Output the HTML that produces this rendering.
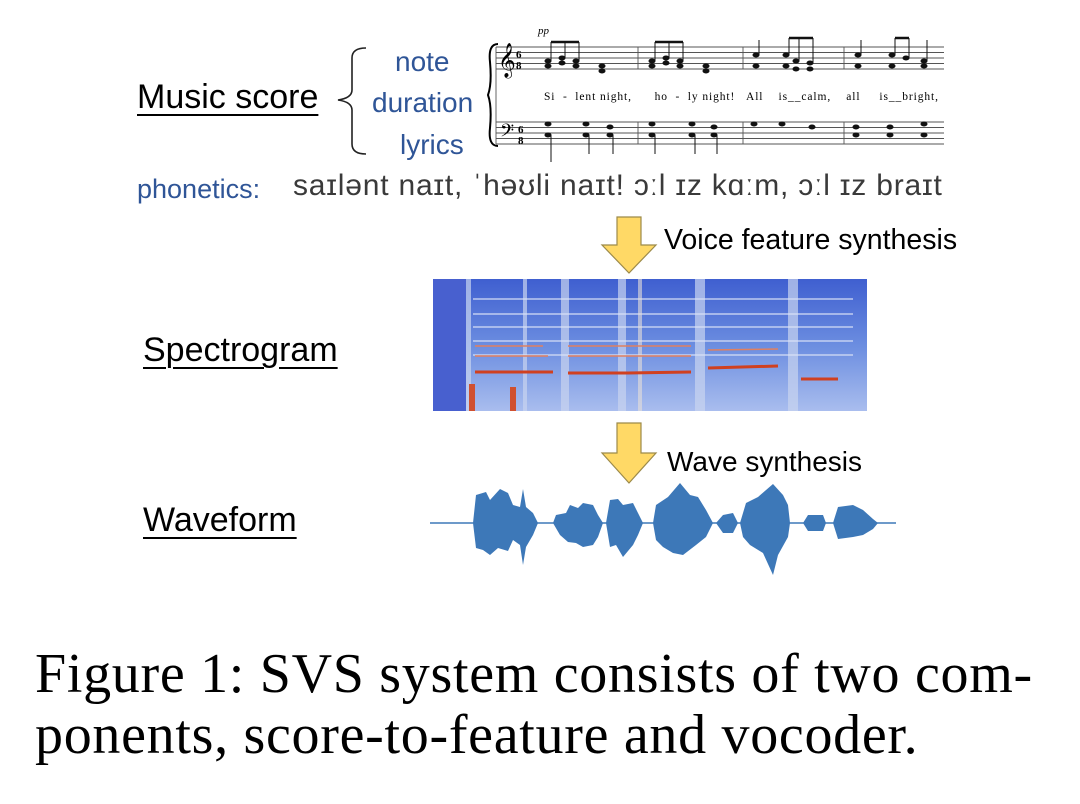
<!DOCTYPE html>
<html><head><meta charset="utf-8"><style>
body{margin:0;width:1080px;height:804px;background:#fff;position:relative;overflow:hidden;font-family:"Liberation Sans","DejaVu Sans",sans-serif}
.t{position:absolute;white-space:nowrap;line-height:1}
.u{text-decoration:underline;text-underline-offset:6px;text-decoration-thickness:2px}
.b{color:#2f5597}
.cap{font-family:"Liberation Serif",serif;font-size:56px;letter-spacing:0.7px;color:#000}
</style></head><body>
<div class="t u" style="left:137px;top:80px;font-size:34px">Music score</div>
<svg style="position:absolute;left:328px;top:44px" width="44" height="114"><path d="M38 4 Q24 4 24 14 L24 46 Q24 54 10 56 Q24 58 24 66 L24 100 Q24 110 38 110" fill="none" stroke="#222" stroke-width="1.6"/></svg>
<div class="t b" style="left:395px;top:48px;font-size:28px">note</div>
<div class="t b" style="left:372px;top:89px;font-size:28px">duration</div>
<div class="t b" style="left:400px;top:131px;font-size:28px">lyrics</div>
<svg style="position:absolute;left:486px;top:22px" width="462" height="146">
<text x="52" y="12" font-family="Liberation Serif" font-style="italic" font-size="11">pp</text>
<path d="M12 22 Q2 22 4 40 Q6 62 2 73 Q6 84 4 106 Q2 124 12 124" fill="none" stroke="#000" stroke-width="2"/>
<g stroke="#555" stroke-width="0.9">
<line x1="10" y1="25" x2="458" y2="25"/><line x1="10" y1="30.5" x2="458" y2="30.5"/><line x1="10" y1="36" x2="458" y2="36"/><line x1="10" y1="41.5" x2="458" y2="41.5"/><line x1="10" y1="47" x2="458" y2="47"/>
<line x1="10" y1="100" x2="458" y2="100"/><line x1="10" y1="105.5" x2="458" y2="105.5"/><line x1="10" y1="111" x2="458" y2="111"/><line x1="10" y1="116.5" x2="458" y2="116.5"/><line x1="10" y1="122" x2="458" y2="122"/>
<line x1="10" y1="25" x2="10" y2="122"/><line x1="152" y1="25" x2="152" y2="47"/><line x1="152" y1="100" x2="152" y2="122"/><line x1="257" y1="25" x2="257" y2="47"/><line x1="257" y1="100" x2="257" y2="122"/><line x1="358" y1="25" x2="358" y2="47"/><line x1="358" y1="100" x2="358" y2="122"/>
</g>
<text x="12" y="48" font-size="30" font-family="DejaVu Sans">𝄞</text>
<text x="14" y="118" font-size="22" font-family="DejaVu Sans">𝄢</text>
<text x="30" y="36" font-size="11" font-weight="bold" font-family="Liberation Serif">6</text><text x="30" y="47" font-size="11" font-weight="bold" font-family="Liberation Serif">8</text>
<text x="32" y="111" font-size="11" font-weight="bold" font-family="Liberation Serif">6</text><text x="32" y="122" font-size="11" font-weight="bold" font-family="Liberation Serif">8</text>
<g fill="#111">
<ellipse cx="62" cy="39" rx="3.5" ry="2.5"/><ellipse cx="62" cy="44" rx="3.5" ry="2.5"/><ellipse cx="76" cy="36" rx="3.5" ry="2.5"/><ellipse cx="76" cy="41" rx="3.5" ry="2.5"/><ellipse cx="90" cy="39" rx="3.5" ry="2.5"/><ellipse cx="90" cy="44" rx="3.5" ry="2.5"/><ellipse cx="116" cy="44" rx="3.5" ry="2.5"/><ellipse cx="116" cy="49" rx="3.5" ry="2.5"/>
<ellipse cx="166" cy="39" rx="3.5" ry="2.5"/><ellipse cx="166" cy="44" rx="3.5" ry="2.5"/><ellipse cx="180" cy="36" rx="3.5" ry="2.5"/><ellipse cx="180" cy="41" rx="3.5" ry="2.5"/><ellipse cx="194" cy="39" rx="3.5" ry="2.5"/><ellipse cx="194" cy="44" rx="3.5" ry="2.5"/><ellipse cx="220" cy="44" rx="3.5" ry="2.5"/><ellipse cx="220" cy="49" rx="3.5" ry="2.5"/>
<ellipse cx="270" cy="33" rx="3.5" ry="2.5"/><ellipse cx="270" cy="44" rx="3.5" ry="2.5"/><ellipse cx="300" cy="33" rx="3.5" ry="2.5"/><ellipse cx="300" cy="44" rx="3.5" ry="2.5"/><ellipse cx="310" cy="39" rx="3.5" ry="2.5"/><ellipse cx="310" cy="47" rx="3.5" ry="2.5"/><ellipse cx="324" cy="41" rx="3.5" ry="2.5"/><ellipse cx="324" cy="47" rx="3.5" ry="2.5"/>
<ellipse cx="372" cy="33" rx="3.5" ry="2.5"/><ellipse cx="372" cy="44" rx="3.5" ry="2.5"/><ellipse cx="406" cy="33" rx="3.5" ry="2.5"/><ellipse cx="406" cy="44" rx="3.5" ry="2.5"/><ellipse cx="420" cy="36" rx="3.5" ry="2.5"/><ellipse cx="438" cy="39" rx="3.5" ry="2.5"/><ellipse cx="438" cy="44" rx="3.5" ry="2.5"/>
<ellipse cx="62" cy="102" rx="3.5" ry="2.5"/><ellipse cx="62" cy="113" rx="3.5" ry="2.5"/><ellipse cx="100" cy="102" rx="3.5" ry="2.5"/><ellipse cx="100" cy="113" rx="3.5" ry="2.5"/><ellipse cx="124" cy="105" rx="3.5" ry="2.5"/><ellipse cx="124" cy="113" rx="3.5" ry="2.5"/>
<ellipse cx="166" cy="102" rx="3.5" ry="2.5"/><ellipse cx="166" cy="113" rx="3.5" ry="2.5"/><ellipse cx="206" cy="102" rx="3.5" ry="2.5"/><ellipse cx="206" cy="113" rx="3.5" ry="2.5"/><ellipse cx="228" cy="105" rx="3.5" ry="2.5"/><ellipse cx="228" cy="113" rx="3.5" ry="2.5"/>
<ellipse cx="268" cy="102" rx="3.5" ry="2.5"/><ellipse cx="296" cy="102" rx="3.5" ry="2.5"/><ellipse cx="326" cy="105" rx="3.5" ry="2.5"/>
<ellipse cx="370" cy="105" rx="3.5" ry="2.5"/><ellipse cx="370" cy="113" rx="3.5" ry="2.5"/><ellipse cx="404" cy="105" rx="3.5" ry="2.5"/><ellipse cx="404" cy="113" rx="3.5" ry="2.5"/><ellipse cx="438" cy="102" rx="3.5" ry="2.5"/><ellipse cx="438" cy="113" rx="3.5" ry="2.5"/>
</g>
<g stroke="#111" stroke-width="1"><line x1="65" y1="20" x2="65" y2="39"/><line x1="79" y1="20" x2="79" y2="36"/><line x1="93" y1="20" x2="93" y2="39"/><line x1="169" y1="20" x2="169" y2="39"/><line x1="183" y1="20" x2="183" y2="36"/><line x1="197" y1="20" x2="197" y2="39"/><line x1="273" y1="18" x2="273" y2="33"/><line x1="303" y1="16" x2="303" y2="33"/><line x1="313" y1="16" x2="313" y2="39"/><line x1="327" y1="16" x2="327" y2="41"/><line x1="375" y1="18" x2="375" y2="33"/><line x1="409" y1="16" x2="409" y2="33"/><line x1="423" y1="16" x2="423" y2="36"/><line x1="441" y1="18" x2="441" y2="39"/><line x1="65" y1="113" x2="65" y2="140"/><line x1="103" y1="113" x2="103" y2="132"/><line x1="127" y1="113" x2="127" y2="132"/><line x1="169" y1="113" x2="169" y2="132"/><line x1="209" y1="113" x2="209" y2="132"/><line x1="231" y1="113" x2="231" y2="132"/></g>
<path d="M65 20 L93 20 M169 20 L197 20 M303 16 L327 16 M409 16 L423 16" stroke="#111" stroke-width="2.5"/>
<text x="58" y="78" font-family="Liberation Serif" font-size="11.5" textLength="394" lengthAdjust="spacing" xml:space="preserve">Si  -  lent night,      ho  -  ly night!   All    is__calm,    all     is__bright,</text>
</svg>
<div class="t b" style="left:137px;top:176px;font-size:27px">phonetics:</div>
<div class="t" style="left:293px;top:171px;font-size:30px;color:#3a3a3a;letter-spacing:0.8px">saɪlənt naɪt, ˈhəʊli naɪt! ɔːl ɪz kɑːm, ɔːl ɪz braɪt</div>
<svg style="position:absolute;left:600px;top:215px" width="60" height="62"><path d="M17 2 H41 V30 H56 L29 58 L2 30 H17 Z" fill="#ffd966" stroke="#9c8a4a" stroke-width="1.2"/></svg>
<div class="t" style="left:664px;top:226px;font-size:28.5px">Voice feature synthesis</div>
<div class="t u" style="left:143px;top:333px;font-size:34px">Spectrogram</div>
<svg style="position:absolute;left:433px;top:279px" width="434" height="132">
<defs><linearGradient id="g" x1="0" y1="0" x2="0" y2="1"><stop offset="0" stop-color="#3f5fd0"/><stop offset="0.5" stop-color="#6b8de0"/><stop offset="1" stop-color="#a9bdee"/></linearGradient></defs>
<rect width="434" height="132" fill="url(#g)"/>
<rect width="33" height="132" fill="#4860cf"/>
<g fill="#c9d4f0" opacity="0.7"><rect x="33" y="0" width="5" height="132"/><rect x="90" y="0" width="4" height="132"/><rect x="128" y="0" width="8" height="132"/><rect x="185" y="0" width="8" height="132"/><rect x="262" y="0" width="10" height="132"/><rect x="355" y="0" width="10" height="132"/></g>
<g stroke="#dbe3f7" stroke-width="2" opacity="0.6"><line x1="40" y1="20" x2="420" y2="20"/><line x1="40" y1="35" x2="420" y2="35"/><line x1="40" y1="48" x2="420" y2="48"/><line x1="40" y1="62" x2="420" y2="62"/><line x1="40" y1="76" x2="420" y2="76"/></g>
<rect x="205" y="0" width="4" height="132" fill="#e8e0d8" opacity="0.6"/>
<g stroke="#d04020" stroke-width="3"><line x1="42" y1="93" x2="120" y2="93"/><line x1="135" y1="94" x2="195" y2="94"/><line x1="195" y1="94" x2="258" y2="93"/><line x1="275" y1="89" x2="345" y2="87"/><line x1="368" y1="100" x2="405" y2="100"/></g>
<g stroke="#e08060" stroke-width="1.5"><line x1="42" y1="77" x2="115" y2="77"/><line x1="135" y1="77" x2="258" y2="77"/><line x1="275" y1="71" x2="345" y2="70"/><line x1="42" y1="67" x2="110" y2="67"/><line x1="135" y1="67" x2="258" y2="67"/></g>
<rect x="36" y="105" width="6" height="27" fill="#d05030"/><rect x="77" y="108" width="6" height="24" fill="#d05030"/>
</svg>
<svg style="position:absolute;left:600px;top:421px" width="60" height="66"><path d="M17 2 H41 V32 H56 L29 62 L2 32 H17 Z" fill="#ffd966" stroke="#9c8a4a" stroke-width="1.2"/></svg>
<div class="t" style="left:667px;top:448px;font-size:28px">Wave synthesis</div>
<div class="t u" style="left:143px;top:503px;font-size:34px">Waveform</div>
<svg style="position:absolute;left:428px;top:475px" width="470" height="110">
<line x1="2" y1="48" x2="468" y2="48" stroke="#3d78b8" stroke-width="1.5"/>
<g fill="#3d78b8">
<path d="M45 48 L48 20 L58 17 L62 25 L72 14 L80 18 L85 30 L92 32 L95 14 L98 32 L105 38 L110 48 L105 60 L98 72 L95 90 L92 70 L85 65 L80 76 L70 73 L62 80 L55 75 L48 73 Z"/>
<path d="M125 48 L128 40 L138 38 L142 30 L150 33 L155 28 L165 30 L170 40 L175 48 L170 62 L165 70 L155 72 L148 68 L140 67 L132 60 Z"/>
<path d="M178 48 L182 25 L190 24 L195 30 L205 28 L210 38 L215 48 L210 60 L205 70 L195 82 L188 70 L182 72 Z"/>
<path d="M225 48 L228 30 L240 22 L252 8 L262 20 L270 22 L278 35 L285 48 L278 62 L268 70 L255 80 L245 78 L235 72 L228 65 Z"/>
<path d="M288 48 L295 40 L305 38 L310 48 L305 58 L295 58 Z"/>
<path d="M312 48 L318 28 L330 22 L345 9 L355 20 L360 30 L362 48 L360 62 L350 80 L345 100 L335 78 L322 70 L315 62 Z"/>
<path d="M375 48 L380 40 L395 40 L398 48 L395 56 L380 56 Z"/>
<path d="M405 48 L410 32 L425 30 L435 35 L445 44 L450 48 L445 54 L435 60 L425 62 L410 64 Z"/>
</g>
</svg>
<div class="t cap" style="left:35px;top:646px">Figure 1: SVS system consists of two com-</div>
<div class="t cap" style="left:35px;top:707px">ponents, score-to-feature and vocoder.</div>
</body></html>
